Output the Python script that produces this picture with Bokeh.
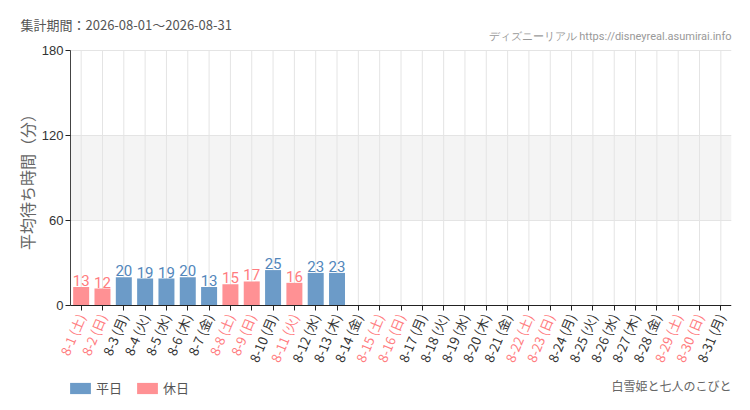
import math

from bokeh.plotting import figure
from bokeh.models import (ColumnDataSource, Range1d, BoxAnnotation, LabelSet, Label,
                          FixedTicker, LinearAxis, Title, Legend, LegendItem)
from bokeh.core.properties import value
from bokeh.embed import file_html
from bokeh.resources import INLINE

# data
days = ["8-1", "8-2", "8-3", "8-4", "8-5", "8-6", "8-7", "8-8", "8-9", "8-10",
        "8-11", "8-12", "8-13", "8-14", "8-15", "8-16", "8-17", "8-18", "8-19",
        "8-20", "8-21", "8-22", "8-23", "8-24", "8-25", "8-26", "8-27", "8-28",
        "8-29", "8-30", "8-31"]
weekdays = ["土", "日", "月", "火", "水", "木", "金", "土", "日", "月",
            "火", "水", "木", "金", "土", "日", "月", "火", "水",
            "木", "金", "土", "日", "月", "火", "水", "木", "金",
            "土", "日", "月"]
holidays = ["8-1", "8-2", "8-8", "8-9", "8-11", "8-15", "8-16", "8-22", "8-23",
            "8-29", "8-30"]
wait = [13, 12, 20, 19, 19, 20, 13, 15, 17, 25, 16, 23, 23]
y_ticks = [0, 60, 120, 180]

CJK = "Noto Sans CJK JP"
BLUE, PINK = "#6c9bc8", "#ff9194"
BLUE_TXT, PINK_TXT = "#5286bb", "#ff7c80"
GRID = "#e4e4e4"

pos = list(range(len(days)))
labels = [f"{d} ({w})" for d, w in zip(days, weekdays)]
x_lo, x_hi = -0.5, len(days) - 0.5

# the frame covers the whole canvas below the header, so that the y axis, the
# slanted day labels, the legend and the footer all sit inside it; the plot
# itself keeps 661 x 255 px
PLOT_W, PLOT_H, LEFT, TOP, FRAME_H = 661, 255, 70, 8, 360
x_start = x_lo - (x_hi - x_lo) * LEFT / PLOT_W
y_high = 180 + 180 * TOP / PLOT_H
y_low = 180 - 180 * FRAME_H / PLOT_H + 180 * TOP / PLOT_H

p = figure(x_range=Range1d(x_start, x_hi), y_range=Range1d(y_low, y_high),
           frame_width=PLOT_W + LEFT, frame_height=FRAME_H, title=None,
           min_border_left=0, min_border_right=11,
           min_border_top=50 - TOP, min_border_bottom=0,
           output_backend="svg", toolbar_location=None)
p.outline_line_color = None
p.xgrid.grid_line_color = None
p.ygrid.grid_line_color = None

# 60-120 band and grid lines, only over the plot area
p.add_layout(BoxAnnotation(left=x_lo, right=x_hi, bottom=60, top=120,
                           fill_color="#f4f4f4", fill_alpha=1, line_alpha=0,
                           level="image"))
p.segment(x0=pos, y0=0, x1=pos, y1=180, line_color=GRID, level="underlay")
p.segment(x0=x_lo, y0=y_ticks[1:], x1=x_hi, y1=y_ticks[1:], line_color=GRID,
          level="underlay")

yax = p.yaxis[0]
yax.ticker = FixedTicker(ticks=y_ticks)
yax.fixed_location = x_lo
yax.bounds = (0, 180)
yax.axis_line_color = "#444"
yax.major_tick_in = 0
yax.major_tick_out = 5
yax.major_tick_line_color = "#222"
yax.minor_tick_line_color = None
yax.major_label_text_font = "Liberation Sans"
yax.major_label_text_font_size = "13px"
yax.major_label_text_color = "#333"
yax.major_label_standoff = 2
yax.axis_label = "平均待ち時間（分）"
yax.axis_label_text_font = CJK
yax.axis_label_text_font_style = "normal"
yax.axis_label_text_font_size = "16px"
yax.axis_label_text_color = "#666"
yax.axis_label_standoff = 0

x_ticker = FixedTicker(ticks=pos)


def day_axis(ax, keep_holidays, color):
    ax.ticker = x_ticker
    ax.fixed_location = 0
    ax.bounds = (x_lo, x_hi)
    ax.major_tick_in = 0
    ax.major_tick_out = 5
    ax.minor_tick_line_color = None
    ax.major_label_overrides = {i: (t if (d in holidays) == keep_holidays else "")
                                for i, d, t in zip(pos, days, labels)}
    ax.major_label_orientation = math.radians(67)
    ax.major_label_standoff = 4
    ax.major_label_text_font = CJK
    ax.major_label_text_font_size = "13px"
    ax.major_label_text_color = color


# weekday labels on the main axis, holiday labels on a second one at y=0
xax = p.xaxis[0]
day_axis(xax, False, "#333")
xax.axis_line_color = "#222"
xax.major_tick_line_color = "#222"

hax = LinearAxis()
day_axis(hax, True, PINK_TXT)
hax.axis_line_color = None
hax.major_tick_line_color = None
p.add_layout(hax, "below")

# bars
wk = [(i, v) for i, d, v in zip(pos, days, wait) if d not in holidays]
ho = [(i, v) for i, d, v in zip(pos, days, wait) if d in holidays]
wk_src = ColumnDataSource(dict(x=[a for a, b in wk], wait=[b for a, b in wk],
                               txt=[str(b) for a, b in wk]))
ho_src = ColumnDataSource(dict(x=[a for a, b in ho], wait=[b for a, b in ho],
                               txt=[str(b) for a, b in ho]))

r_wk = p.vbar(x="x", top="wait", width=0.75, source=wk_src, fill_color=BLUE,
              line_color=None)
r_ho = p.vbar(x="x", top="wait", width=0.75, source=ho_src, fill_color=PINK,
              line_color=None)

for src, col in ((wk_src, BLUE_TXT), (ho_src, PINK_TXT)):
    p.add_layout(LabelSet(x="x", y="wait", text="txt", source=src, y_offset=1,
                          text_align="center", text_baseline="bottom",
                          text_font=value("Roboto"), text_font_size="15px",
                          text_color=col))

# header texts
p.add_layout(Title(text="ディズニーリアル https://disneyreal.asumirai.info",
                   align="right", text_font="Roboto", text_font_size="11px",
                   text_font_style="normal", text_color="#999", standoff=0), "above")
p.add_layout(Title(text="集計期間：2026-08-01〜2026-08-31", align="left", offset=20,
                   text_font=CJK, text_font_size="13px", text_font_style="normal",
                   text_color="#555", standoff=-13), "above")

# footer: series name and legend
p.add_layout(Label(x=PLOT_W + LEFT, y=17, x_units="screen", y_units="screen",
                   text="白雪姫と七人のこびと", text_font=CJK, text_font_size="12px",
                   text_color="#666", text_align="right", text_baseline="middle"))

leg = Legend(items=[LegendItem(label="平日", renderers=[r_wk]),
                    LegendItem(label="休日", renderers=[r_ho])],
             orientation="horizontal", location=(LEFT - 3, 5))
leg.padding = 0
leg.margin = 0
leg.spacing = 12
leg.border_line_color = None
leg.background_fill_alpha = 0
leg.glyph_width = 26
leg.glyph_height = 14
leg.label_standoff = 3
leg.label_text_font = CJK
leg.label_text_font_size = "13px"
leg.label_text_color = "#555"
p.add_layout(leg)

open("out.html", "w").write(file_html(p, INLINE))
